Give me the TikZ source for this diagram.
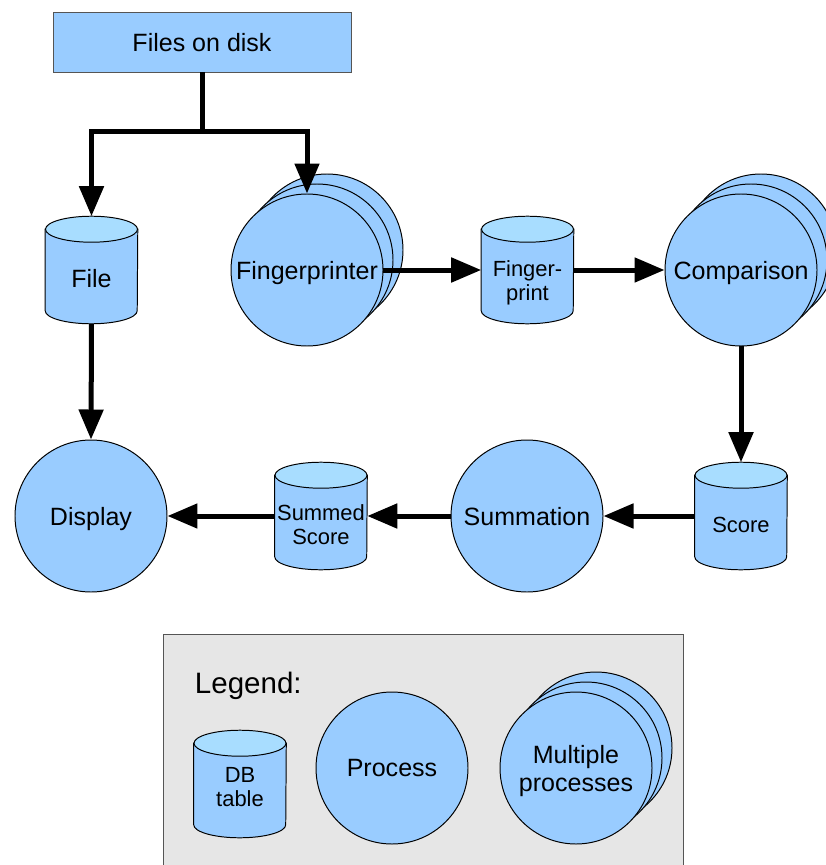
\documentclass[tikz,border=0pt]{standalone}
\usepackage{fontspec}
\setmainfont{Liberation Sans}
\usetikzlibrary{arrows.meta}

\definecolor{procblue}{HTML}{99CCFF}
\definecolor{lidblue}{HTML}{A8DDFF}
\definecolor{legendgray}{HTML}{E6E6E6}
\definecolor{framegray}{HTML}{555555}

\tikzset{
    proc/.style={circle, draw, fill=procblue, line width=0.7pt,
        minimum size=3.8cm, inner sep=0pt, align=center, text depth=0pt,
        font=\fontsize{17.8}{20}\selectfont},
    diskbox/.style={rectangle, draw=framegray, fill=procblue, line width=0.7pt,
        minimum width=7.45cm, minimum height=1.5cm, text depth=0pt,
        font=\fontsize{17.8}{20}\selectfont},
    dbframe/.style={rectangle, minimum width=2.3cm, minimum height=2.675cm, inner sep=0pt},
    dbtext/.style={align=center, font=\fontsize{15.6}{16.8}\selectfont},
    dbside/.style={draw, fill=procblue, line width=0.7pt},
    dblid/.style={draw, fill=lidblue, line width=0.7pt},
    legendbox/.style={draw=framegray, fill=legendgray, line width=0.7pt},
    flow/.style={line width=0.125cm, -{Triangle[length=0.75cm,width=0.6cm]}},
}

% db table: frame node #2 at (#3), label #4, label options #1
\newcommand\dbtable[4][]{%
    \node[dbframe] (#2) at (#3) {};
    \path[dbside] ([yshift=-0.325cm]#2.north west) -- ([yshift=0.325cm]#2.south west)
        arc[start angle=180, end angle=360, x radius=1.15cm, y radius=0.325cm]
        -- ([yshift=-0.325cm]#2.north east) -- cycle;
    \path[dblid] ([yshift=-0.325cm]#2.north) ellipse[x radius=1.15cm, y radius=0.325cm];
    \node[dbtext,#1] (#2-label) at ([yshift=-0.22cm]#2.center) {#4};
}

% stack of three processes, front one named #1
\newcommand\multiproc[3]{%
    \node[proc] (#1-back) at ([shift={(0.5,0.5)}]#2) {};
    \node[proc] (#1-mid) at ([shift={(0.25,0.25)}]#2) {};
    \node[proc] (#1) at (#2) {#3};
}

\begin{document}
\begin{tikzpicture}
    \useasboundingbox (0,0) rectangle (20.65,-21.625);

    % top row
    \node[diskbox] (disk) at (5.05,-1.05) {Files on disk};
    \dbtable[font=\fontsize{17.8}{20}\selectfont]{file}{2.2875,-6.75}{File}
    \multiproc{fpr}{7.675,-6.75}{Fingerprinter}
    \dbtable[yshift=-0.1cm]{print}{13.1875,-6.75}{Finger-\\print}
    \multiproc{cmp}{18.525,-6.75}{Comparison}

    % bottom row
    \dbtable{score}{18.525,-12.9}{Score}
    \node[proc] (sum) at (13.175,-12.9) {Summation};
    \dbtable{summed}{8.025,-12.9}{Summed\\Score}
    \node[proc] (display) at (2.275,-12.9) {Display};

    % flow
    \draw[line width=0.125cm] (disk.south) -- ++(0,-1.475) coordinate (split);
    \draw[flow] (split) -| (file.north);
    \draw[flow] (split) -| (fpr.north);
    \draw[flow] (file.south) -- (display.north);
    \draw[flow] (fpr.east) -- (print.west);
    \draw[flow] (print.east) -- (cmp.west);
    \draw[flow] (cmp.south) -- (score.north);
    \draw[flow] (score.west) -- (sum.east);
    \draw[flow] (sum.west) -- (summed.east);
    \draw[flow] (summed.west) -- (display.east);

    % legend
    \draw[legendbox] (4.075,-15.85) rectangle (17.075,-22.5);
    \node[anchor=base west, font=\fontsize{21}{24}\selectfont] (legend) at (4.75,-17.325) {Legend:};
    \dbtable[yshift=0.15cm]{dbkey}{6.0,-19.6}{DB\\table}
    \node[proc] (prockey) at (9.8,-19.2) {Process};
    \multiproc{multikey}{14.4,-19.2}{Multiple\\processes}
\end{tikzpicture}
\end{document}
